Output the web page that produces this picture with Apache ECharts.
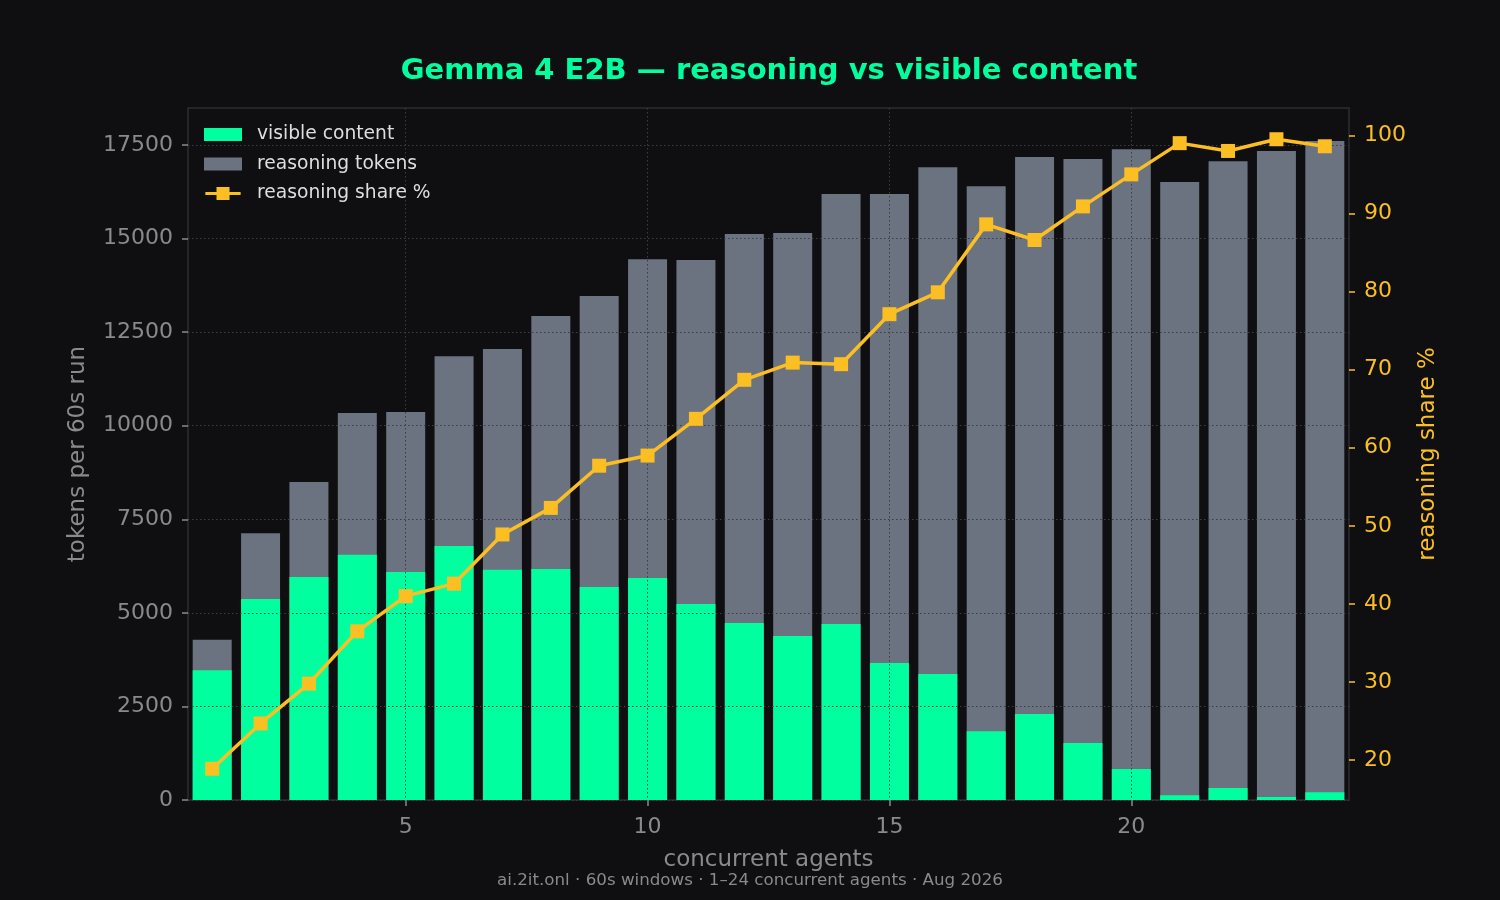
<!DOCTYPE html>
<html>
<head>
    <meta http-equiv="Content-Type" content="text/html; charset=utf-8">
    <title>Gemma 4 E2B reasoning vs visible content</title>
    <script src="https://cdn.jsdelivr.net/npm/echarts@6/dist/echarts.min.js"></script>
    <style type="text/css">
        html, body {
            margin: 0;
            padding: 0;
            background-color: #0f0f11;
        }

        #chart {
            width: 1500px;
            height: 900px;
        }
    </style>
</head>
<body>
<div id="chart"></div>
<script>
    // 数据: one entry per concurrent agent count
    var agents = [1, 2, 3, 4, 5, 6, 7, 8, 9, 10, 11, 12, 13, 14, 15, 16, 17, 18, 19, 20, 21, 22, 23, 24];
    var visibleTokens = [3470, 5370, 5960, 6550, 6090, 6790, 6150, 6170, 5690, 5930, 5240, 4730,
        4380, 4700, 3660, 3370, 1840, 2300, 1520, 830, 130, 320, 80, 210];
    var reasoningTokens = [810, 1760, 2540, 3790, 4280, 5070, 5900, 6760, 7780, 8520, 9190, 10390,
        10770, 11490, 12530, 13540, 14560, 14880, 15610, 16560, 16380, 16750, 17260, 17400];
    var reasoningShare = [18.9, 24.7, 29.8, 36.5, 41.0, 42.6, 48.9, 52.3, 57.7, 59.0, 63.7, 68.7,
        70.9, 70.7, 77.1, 79.9, 88.6, 86.6, 90.9, 95.0, 99.0, 98.0, 99.5, 98.6];

    // tick labels
    var xTicks = [5, 10, 15, 20];
    var leftTicks = [0, 2500, 5000, 7500, 10000, 12500, 15000, 17500];
    var rightTicks = [20, 30, 40, 50, 60, 70, 80, 90, 100];

    function pairs(ys) {
        var out = [];
        for (var i = 0; i < agents.length; i++) {
            out.push([agents[i], ys[i]]);
        }
        return out;
    }

    // stack by hand: the grey bar is drawn to visible + reasoning, the green bar on top of it from 0
    function stackedTops() {
        var out = [];
        for (var i = 0; i < agents.length; i++) {
            out.push([agents[i], visibleTokens[i] + reasoningTokens[i]]);
        }
        return out;
    }

    function plain(v) {
        return String(v);
    }

    var GREEN = '#00ff9f';
    var GREY = '#6b7280';
    var AMBER = '#fbbf24';
    var MUTED = '#8a8a8a';
    var FONT = 'DejaVu Sans';

    var gridDots = {
        show: true,
        lineStyle: {color: '#3c3c46', width: 1, type: [1.5, 2.5]}
    };

    var chart = echarts.init(document.getElementById('chart'));
    var option = {
        backgroundColor: '#0f0f11',
        animation: false,
        textStyle: {fontFamily: FONT},
        grid: {
            left: 188,
            right: 151,
            top: 108,
            bottom: 100,
            show: true,
            borderColor: '#2c2c34',
            borderWidth: 1.5,
            backgroundColor: '#0f0f11'
        },
        graphic: [
            {   // title
                type: 'text',
                x: 769,
                y: 71,
                style: {
                    text: 'Gemma 4 E2B — reasoning vs visible content',
                    fill: GREEN,
                    font: 'bold 29px "DejaVu Sans"',
                    textAlign: 'center',
                    textVerticalAlign: 'middle'
                }
            },
            {   // footer
                type: 'text',
                x: 750,
                y: 881,
                style: {
                    text: 'ai.2it.onl · 60s windows · 1–24 concurrent agents · Aug 2026',
                    fill: MUTED,
                    font: '16.7px "DejaVu Sans"',
                    textAlign: 'center',
                    textVerticalAlign: 'middle'
                }
            }
        ],
        legend: {
            orient: 'vertical',
            left: 199,
            top: 120,
            itemWidth: 38,
            itemHeight: 13,
            itemGap: 10.5,
            data: [
                {name: 'visible content', icon: 'rect'},
                {name: 'reasoning tokens', icon: 'rect'},
                {name: 'reasoning share %', icon: 'path://M0,5.5H38V8.5H0Z M12,0H26V14H12Z'}
            ],
            textStyle: {color: '#dedede', fontSize: 18.7, fontFamily: FONT, padding: [0, 0, 0, 10]}
        },
        xAxis: {
            type: 'value',
            min: 0.5,
            max: 24.5,
            z: 3,
            name: 'concurrent agents',
            nameLocation: 'middle',
            nameGap: 49,
            nameTextStyle: {color: MUTED, fontSize: 23, fontFamily: FONT},
            axisLine: {show: false},
            axisTick: {show: true, length: 6, customValues: xTicks, lineStyle: {color: MUTED, width: 1.5}},
            axisLabel: {color: MUTED, fontSize: 22, margin: 16, customValues: xTicks, formatter: plain},
            splitLine: gridDots
        },
        yAxis: [
            {
                type: 'value',
                min: 0,
                max: 18490,
                interval: 2500,
                z: 3,
                name: 'tokens per 60s run',
                nameLocation: 'middle',
                nameGap: 98,
                nameTextStyle: {color: MUTED, fontSize: 23, fontFamily: FONT},
                axisLine: {show: false},
                axisTick: {show: true, length: 6, customValues: leftTicks, lineStyle: {color: MUTED, width: 1.5}},
                axisLabel: {color: MUTED, fontSize: 22, margin: 15, padding: [6, 0, 0, 0],
                    customValues: leftTicks, formatter: plain},
                splitLine: gridDots
            },
            {
                type: 'value',
                position: 'right',
                min: 14.9,
                max: 103.5,
                z: 3,
                name: 'reasoning share %',
                nameLocation: 'middle',
                nameGap: 67,
                nameRotate: 90,
                nameTextStyle: {color: AMBER, fontSize: 23, fontFamily: FONT},
                axisLine: {show: false},
                axisTick: {show: true, length: 6, customValues: rightTicks, lineStyle: {color: AMBER, width: 1.5}},
                axisLabel: {color: AMBER, fontSize: 22, margin: 15, padding: [6, 0, 0, 0],
                    customValues: rightTicks, formatter: plain},
                splitLine: {show: false}
            }
        ],
        series: [
            {
                name: 'reasoning tokens',
                type: 'bar',
                barWidth: 39,
                barGap: '-100%',
                itemStyle: {color: GREY},
                data: stackedTops()
            },
            {
                name: 'visible content',
                type: 'bar',
                barWidth: 39,
                barGap: '-100%',
                itemStyle: {color: GREEN},
                data: pairs(visibleTokens)
            },
            {
                name: 'reasoning share %',
                type: 'line',
                yAxisIndex: 1,
                z: 5,
                symbol: 'rect',
                symbolSize: 14,
                lineStyle: {color: AMBER, width: 3.5},
                itemStyle: {color: AMBER},
                data: pairs(reasoningShare)
            }
        ]
    };

    chart.setOption(option);
</script>
</body>
</html>
